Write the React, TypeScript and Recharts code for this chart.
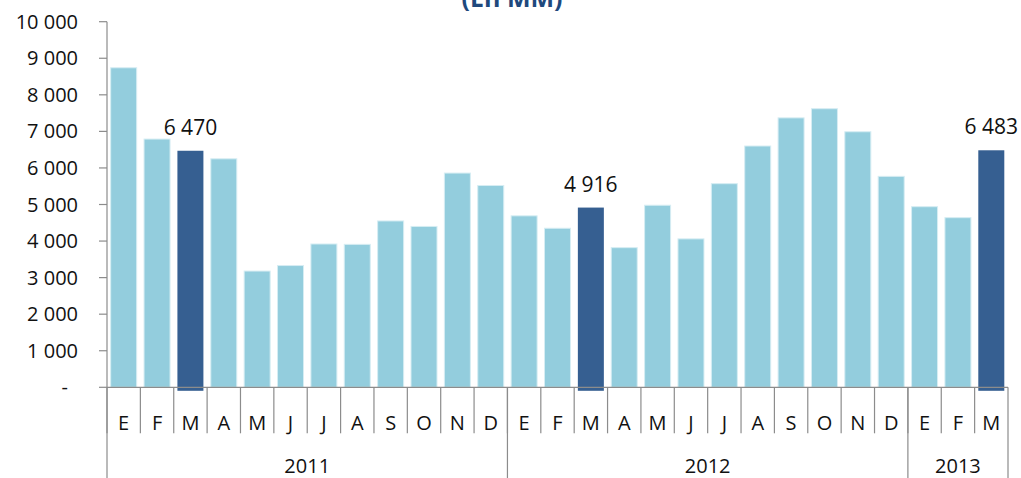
import React from "react";
import { BarChart, Bar, XAxis, YAxis, LabelList } from "recharts";

const title = "(En MM)";
const months = ["E","F","M","A","M","J","J","A","S","O","N","D","E","F","M","A","M","J","J","A","S","O","N","D","E","F","M"];
const values = [8740,6790,6470,6250,3180,3330,3920,3910,4550,4400,5860,5520,4690,4350,4916,3820,4980,4060,5570,6600,7370,7620,6990,5770,4940,4640,6483];
const highlighted = [false,false,true,false,false,false,false,false,false,false,false,false,false,false,true,false,false,false,false,false,false,false,false,false,false,false,true];
const yearLabels = ["2011","2012","2013"];
const yearLengths = [12,12,3];
const yTicks = [0,1000,2000,3000,4000,5000,6000,7000,8000,9000,10000];

const W = 1021;
const H = 478;
const MARGIN = { top: 21.7, right: 13, bottom: 0, left: 0 };
const X_AXIS_H = 90.7;
const Y_AXIS_W = 107;
const BAND = (W - MARGIN.left - MARGIN.right - Y_AXIS_W) / months.length;

const LIGHT = "#93cddd";
const LIGHT_STROKE = "#d6edf3";
const DARK = "#365f91";
const AXIS = "#8c8c8c";
const FONT = "'Open Sans', sans-serif";

const yearStarts: number[] = [];
{
  let s = 0;
  for (const n of yearLengths) { yearStarts.push(s); s += n; }
}

const fmt = (v: number) => (v === 0 ? "-" : String(v).replace(/\B(?=(\d{3})+(?!\d))/g, " "));

const data = months.map((m, i) => ({ idx: i, m, v: values[i], hl: highlighted[i] }));

function MonthTick(props: any) {
  const { x, y, payload } = props;
  const i = Number(payload.value);
  const half = BAND / 2;
  const last = i === months.length - 1;
  const gi = yearStarts.indexOf(i);
  return (
    <g>
      <line x1={x - half} x2={x - half} y1={y} y2={y + 46} stroke={AXIS} strokeWidth={1.2} />
      {last && <line x1={x + half} x2={x + half} y1={y} y2={H} stroke={AXIS} strokeWidth={1.2} />}
      {gi >= 0 && <line x1={x - half} x2={x - half} y1={y} y2={H} stroke={AXIS} strokeWidth={1.2} />}
      {gi >= 0 && (
        <text x={x - half + (yearLengths[gi] * BAND) / 2} y={y + 86} textAnchor="middle" fontSize={20} fontFamily={FONT} fill="#111">
          {yearLabels[gi]}
        </text>
      )}
      <text x={x} y={y + 43} textAnchor="middle" fontSize={20} fontFamily={FONT} fill="#111">
        {months[i]}
      </text>
    </g>
  );
}

function YTick(props: any) {
  const { x, y, payload } = props;
  const v = Number(payload.value);
  return (
    <text x={v === 0 ? x - 10 : x} y={y} dy="0.35em" textAnchor="end" fontSize={20} fontFamily={FONT} fill="#111">
      {fmt(v)}
    </text>
  );
}

function BarShape(p: any) {
  const hl = p.payload && p.payload.hl;
  if (!p.height && p.height !== 0) return null;
  return (
    <rect
      x={p.x}
      y={p.y}
      width={p.width}
      height={p.height + (hl ? 3.5 : 0)}
      fill={hl ? DARK : LIGHT}
      stroke={hl ? "none" : LIGHT_STROKE}
      strokeWidth={1}
    />
  );
}

function ValueLabel(p: any) {
  const i = p.index;
  if (i === undefined || !highlighted[i]) return null;
  return (
    <text x={p.x + p.width / 2} y={p.y - 16} textAnchor="middle" fontSize={21} fontFamily={FONT} fill="#111">
      {fmt(Number(p.value))}
    </text>
  );
}

export default function App() {
  return (
    <div style={{ position: "absolute", left: 0, top: 0, width: W, height: H, background: "#fff" }}>
      <svg width={W} height={30} style={{ position: "absolute", left: 0, top: 0, zIndex: 2, pointerEvents: "none" }}>
        <text x={512} y={7} textAnchor="middle" fontSize={25} fontWeight="bold" fontFamily={FONT} fill="#1f497d">
          {title}
        </text>
      </svg>
      <BarChart width={W} height={H} data={data} margin={MARGIN} barCategoryGap="11%">
        <XAxis
          dataKey="idx"
          type="category"
          interval={0}
          height={X_AXIS_H}
          tickLine={false}
          tickSize={0}
          tickMargin={0}
          axisLine={{ stroke: AXIS, strokeWidth: 1.2 }}
          tick={<MonthTick />}
        />
        <YAxis
          width={Y_AXIS_W}
          domain={[0, 10000]}
          ticks={yTicks}
          interval={0}
          tickSize={8}
          tickMargin={21}
          axisLine={{ stroke: AXIS, strokeWidth: 1.2 }}
          tickLine={{ stroke: AXIS, strokeWidth: 1.2 }}
          tick={<YTick />}
        />
        <Bar dataKey="v" isAnimationActive={false} shape={<BarShape />}>
          <LabelList dataKey="v" content={<ValueLabel />} />
        </Bar>
      </BarChart>
    </div>
  );
}
